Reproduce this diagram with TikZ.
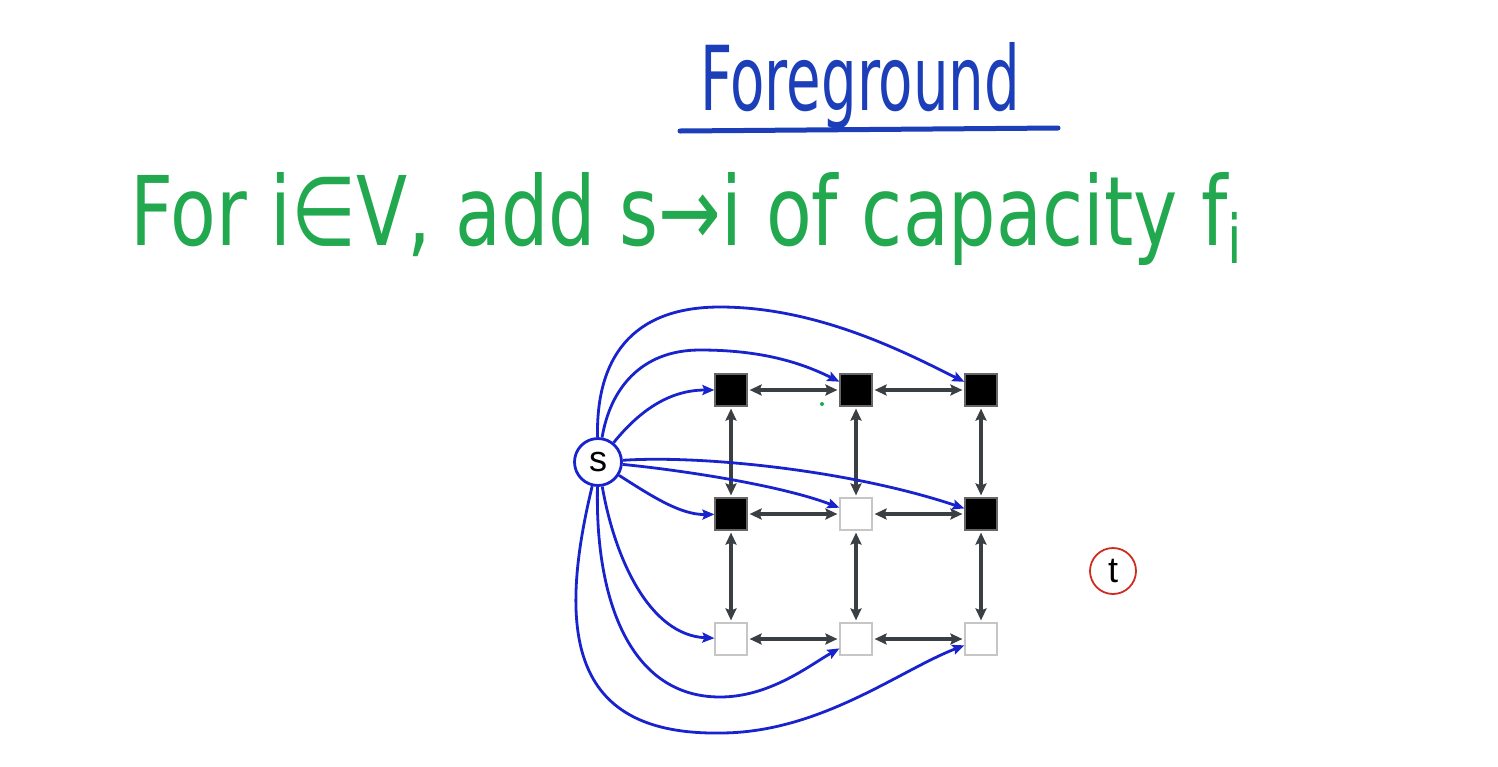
\documentclass[tikz,border=0pt]{standalone}
\usepackage{fontspec}
\usepackage{graphicx}
\setmainfont{Liberation Sans}
\newfontfamily\hand{DejaVu Sans}
\usetikzlibrary{arrows.meta}
\definecolor{titleblue}{RGB}{28,62,184}
\definecolor{handgreen}{RGB}{34,168,78}
\definecolor{arrowblue}{RGB}{25,35,205}
\definecolor{gridgray}{RGB}{58,63,68}
\definecolor{tred}{RGB}{205,45,30}
\begin{document}
\begin{tikzpicture}[x=1pt,y=-1pt,
  sq/.style={draw, minimum size=32pt, inner sep=0pt, line width=1.2pt},
  blk/.style={sq, fill=black, draw=gray!80!black},
  wht/.style={sq, fill=white, draw=gray!45},
  garrow/.style={draw=gridgray, line width=3.4pt, {Stealth[length=12pt,width=11pt,inset=2pt]}-{Stealth[length=12pt,width=11pt,inset=2pt]}, shorten >=2pt, shorten <=2pt},
  barrow/.style={draw=arrowblue, line width=2.8pt, -{Stealth[length=12pt,width=10pt,inset=2pt]}}]
\useasboundingbox[fill=white] (0,0) rectangle (1498,766);

% titles
\node[anchor=base west, inner sep=0pt, text=titleblue] (title) at (700,110) {\resizebox{320pt}{68pt}{\hand Foreground}};
\coordinate (ul1) at (680,131);
\coordinate (ul2) at (1058,128);
\draw[titleblue, line width=5pt, line cap=round] (ul1) -- (ul2);
\node[anchor=base west, inner sep=0pt, text=handgreen] (rule) at (130,245) {\resizebox{1115pt}{73pt}{\hand For i∈V, add s→i of capacity f\textsubscript{i}}};

% grid nodes
\node[blk] (n11) at (731,390) {};
\node[blk] (n12) at (856,390) {};
\node[blk] (n13) at (981,390) {};
\node[blk] (n21) at (731,514) {};
\node[wht] (n22) at (856,514) {};
\node[blk] (n23) at (981,514) {};
\node[wht] (n31) at (731,639) {};
\node[wht] (n32) at (856,639) {};
\node[wht] (n33) at (981,639) {};

\node[circle, draw=arrowblue, line width=2.8pt, fill=white, minimum size=47pt, inner sep=0pt, font=\fontsize{36}{36}\selectfont] (s) at (598,462) {s};
\node[circle, draw=tred, line width=1.8pt, fill=white, minimum size=46pt, inner sep=0pt, font=\fontsize{36}{36}\selectfont] (t) at (1113,571) {t};

% grid edges
\draw[garrow] (n11) -- (n12);
\draw[garrow] (n12) -- (n13);
\draw[garrow] (n21) -- (n22);
\draw[garrow] (n22) -- (n23);
\draw[garrow] (n31) -- (n32);
\draw[garrow] (n32) -- (n33);
\draw[garrow] (n11) -- (n21);
\draw[garrow] (n21) -- (n31);
\draw[garrow] (n12) -- (n22);
\draw[garrow] (n22) -- (n32);
\draw[garrow] (n13) -- (n23);
\draw[garrow] (n23) -- (n33);

% source edges
\draw[barrow] (s) .. controls (640,410) and (670,390) .. (n11);
\draw[barrow] (s) .. controls (610,390) and (640,350) .. (700,350) .. controls (760,350) and (800,362) .. (n12);
\draw[barrow] (s) .. controls (596,360) and (630,307) .. (720,307) .. controls (820,307) and (910,355) .. (n13);
\draw[barrow] (s) .. controls (650,495) and (680,515) .. (n21);
\draw[barrow] (s) .. controls (680,470) and (780,485) .. (n22);
\draw[barrow] (s) .. controls (700,455) and (850,470) .. (n23);
\draw[barrow] (s) .. controls (615,560) and (650,635) .. (n31);
\draw[barrow] (s) .. controls (595,600) and (630,697) .. (720,697) .. controls (770,697) and (810,665) .. (n32);
\draw[barrow] (s) .. controls (555,640) and (575,735) .. (720,733) .. controls (820,733) and (900,670) .. (n33);

% stray pen dot
\fill[handgreen] (822,404) circle (2pt);
\end{tikzpicture}
\end{document}
